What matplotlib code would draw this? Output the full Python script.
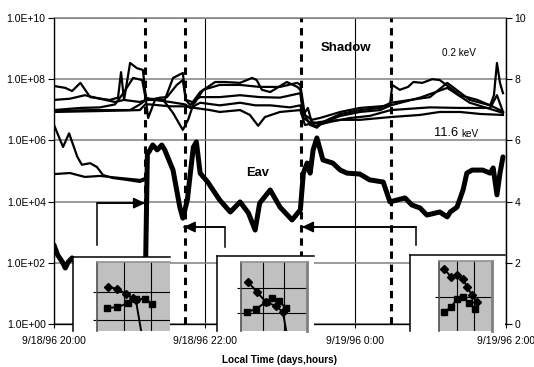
import matplotlib
matplotlib.use('Agg')
import matplotlib.pyplot as plt
from matplotlib.ticker import NullLocator
from matplotlib.patches import ArrowStyle

plt.rcParams['font.family'] = ['Liberation Sans', 'DejaVu Sans']

# ---------------- data ----------------
# time in hours after 9/18/96 20:00
tick_hours = [0, 2, 4, 6]
tick_labels = ['9/18/96 20:00', '9/18/96 22:00', '9/19/96 0:00', '9/19/96 2:00']
flux_ticks = [1e0, 1e2, 1e4, 1e6, 1e8, 1e10]
flux_tick_labels = ['1.0E+00', '1.0E+02', '1.0E+04', '1.0E+06', '1.0E+08', '1.0E+10']
eav_ticks = [0, 2, 4, 6, 8, 10]
shadow_edges = [1.21, 1.74, 3.28, 4.47]

# energy channel fluxes (left, log axis)
t1 = [0, 0.15, 0.24, 0.35, 0.48, 0.74, 0.85, 0.89, 0.93, 1.14, 1.22, 1.27, 1.41, 1.50, 1.63, 1.71,
      1.75, 1.87, 1.98, 2.20, 2.47, 2.73, 3.0, 3.23, 3.27, 3.33, 3.42, 3.53, 3.80, 4.06, 4.33, 4.46,
      4.49, 4.59, 4.70, 4.77, 4.89, 5.02, 5.12, 5.26, 5.39, 5.62, 5.79, 5.84, 5.88, 5.92, 5.96]
f1 = [6.0e7, 5.2e7, 4.1e7, 7.6e7, 2.6e7, 2.1e7, 2.5e7, 1.7e8, 2.1e7, 1.8e7, 2.1e7, 2.1e7, 2.5e7, 2.6e7, 6.5e7, 9.4e7,
      2.1e7, 1.7e7, 4.5e7, 6.5e7, 6.5e7, 5.6e7, 5.6e7, 7.6e7, 6.5e7, 6.8e6, 4.7e6, 5.4e6, 8.5e6, 1.15e7, 1.3e7, 1.4e7,
      6.5e7, 4.5e7, 5.6e7, 8.1e7, 7.6e7, 1.0e8, 9.4e7, 5.2e7, 3.0e7, 2.1e7, 1.4e7, 3.0e7, 3.4e8, 7.6e7, 3.5e7]

t2 = [0, 0.21, 0.41, 0.61, 0.81, 0.93, 1.01, 1.10, 1.18, 1.22, 1.27, 1.47, 1.58, 1.71, 1.75, 1.81,
      1.94, 2.14, 2.27, 2.47, 2.63, 2.69, 2.76, 2.87, 3.09, 3.23, 3.27, 3.31, 3.40, 3.49, 3.57, 3.80,
      4.06, 4.33, 4.47, 4.73, 4.99, 5.22, 5.52, 5.79, 5.92, 5.96]
f2 = [2.1e7, 2.3e7, 3.0e7, 2.3e7, 1.8e7, 2.1e7, 3.4e8, 2.3e8, 2.0e8, 2.5e7, 2.3e7, 2.1e7, 1.1e8, 1.6e8, 2.1e7, 1.4e7,
      3.8e7, 8.1e7, 8.1e7, 7.6e7, 1.1e8, 9.4e7, 4.5e7, 3.8e7, 8.1e7, 5.6e7, 4.5e7, 7.9e6, 3.2e6, 2.6e6, 4.0e6, 7.3e6,
      9.8e6, 1.15e7, 1.7e7, 2.1e7, 2.6e7, 7.6e7, 2.1e7, 1.4e7, 9.8e6, 8.5e6]

t3 = [0, 0.35, 0.61, 0.81, 0.92, 1.05, 1.17, 1.22, 1.27, 1.45, 1.58, 1.71, 1.78, 1.87, 1.94, 2.20,
      2.47, 2.73, 3.0, 3.27, 3.31, 3.37, 3.42, 3.53, 3.80, 4.06, 4.33, 4.47, 4.86, 5.22, 5.52, 5.92, 5.96]
f3 = [9.8e6, 1.15e7, 1.2e7, 1.5e7, 3.5e7, 1.1e8, 9.4e7, 2.1e7, 2.1e7, 2.1e7, 7.9e6, 2.2e6, 4.7e6, 2.1e7, 2.6e7, 2.6e7,
      3.0e7, 2.6e7, 2.5e7, 3.5e7, 6.8e6, 1.15e7, 4.0e6, 3.5e6, 6.3e6, 8.5e6, 9.8e6, 1.4e7, 2.5e7, 5.2e7, 1.7e7, 8.5e6, 7.9e6]

t4 = [0, 0.48, 0.88, 1.01, 1.14, 1.22, 1.25, 1.34, 1.54, 1.74, 1.81, 1.94, 2.20, 2.47, 2.67, 2.87,
      3.13, 3.27, 3.31, 3.47, 3.66, 3.93, 4.19, 4.47, 4.99, 5.39, 5.79, 5.88, 5.96]
f4 = [9.1e6, 9.8e6, 9.8e6, 9.8e6, 1.5e7, 2.1e7, 5.4e6, 2.1e7, 1.8e7, 1.5e7, 1.15e7, 1.7e7, 1.4e7, 1.7e7, 1.4e7, 1.4e7,
      1.2e7, 1.4e7, 5.4e6, 3.0e6, 4.0e6, 5.4e6, 6.3e6, 9.8e6, 1.2e7, 1.15e7, 1.15e7, 3.0e7, 8.5e6]

t5 = [0, 0.61, 1.14, 1.21, 1.27, 1.54, 1.74, 1.87, 2.07, 2.20, 2.47, 2.60, 2.71, 2.80, 3.0, 3.27,
      3.33, 3.53, 3.80, 4.06, 4.47, 4.86, 5.12, 5.39, 5.66, 5.96]
f5 = [8.5e6, 9.1e6, 9.8e6, 1.5e7, 1.5e7, 1.3e7, 1.3e7, 1.15e7, 9.8e6, 8.5e6, 9.8e6, 6.8e6, 3.0e6, 5.8e6, 8.5e6, 9.8e6,
      3.2e6, 4.0e6, 4.7e6, 4.7e6, 5.8e6, 6.8e6, 8.5e6, 8.5e6, 7.3e6, 6.8e6]

t6 = [0, 0.12, 0.20, 0.31, 0.37, 0.48, 0.57, 0.65, 0.78, 0.97, 1.14, 1.21]
f6 = [3.2e6, 6.1e5, 1.7e6, 2.9e5, 1.6e5, 1.8e5, 1.35e5, 7.4e4, 5.9e4, 5.1e4, 4.4e4, 5.1e4]

t7 = [0, 0.21, 0.41, 0.61, 0.88, 1.14, 1.21]
f7 = [7.9e4, 8.6e4, 6.4e4, 6.9e4, 5.9e4, 5.1e4, 5.9e4]

# average energy Eav (right axis, keV)
eav_t = [0, 0.05, 0.11, 0.15, 0.19, 0.24, 0.41, 0.68, 0.94, 1.18, 1.21, 1.24, 1.26, 1.31, 1.37, 1.43,
         1.47, 1.58, 1.67, 1.71, 1.77, 1.81, 1.85, 1.89, 1.94, 2.04, 2.20, 2.34, 2.47, 2.58, 2.67, 2.73,
         2.87, 3.0, 3.16, 3.27, 3.31, 3.36, 3.40, 3.44, 3.49, 3.57, 3.70, 3.80, 3.89, 4.06, 4.19, 4.37,
         4.46, 4.55, 4.66, 4.75, 4.86, 4.95, 5.12, 5.22, 5.26, 5.35, 5.43, 5.48, 5.55, 5.69, 5.79, 5.83,
         5.88, 5.92, 5.96]
eav = [2.58, 2.25, 2.03, 1.83, 2.03, 2.16, 1.6, 1.3, 1.1, 1.0, 1.0, 5.6, 5.62, 5.85, 5.69, 5.85,
       5.69, 5.03, 3.82, 3.46, 4.05, 4.93, 5.78, 5.95, 4.93, 4.64, 4.05, 3.66, 3.99, 3.63, 3.07, 3.95,
       4.38, 3.82, 3.40, 3.73, 4.93, 5.26, 4.93, 5.69, 6.08, 5.36, 5.26, 5.03, 4.93, 4.90, 4.71, 4.64,
       3.99, 4.05, 4.12, 3.89, 3.79, 3.56, 3.66, 3.50, 3.66, 3.82, 4.38, 4.93, 5.03, 5.03, 4.93, 5.10,
       4.22, 4.93, 5.46]

# arrows: (tail_x, tail_y, corner_y, head_x) in hours / keV
arrows = [(0.57, 2.58, 3.95, 1.21), (2.27, 2.52, 3.17, 1.72), (4.81, 2.58, 3.17, 3.29)]

# inset spectra (arbitrary units)
in1_dx = [0.37, 0.74, 1.07, 1.33, 1.44, 1.70]
in1_dy = [1.18, 1.11, 0.93, 0.79, 0.71, -0.71]
in1_sx = [0.33, 0.74, 1.15, 1.44, 1.78, 2.07]
in1_sy = [0.43, 0.46, 0.61, 0.75, 0.75, 0.57]

in2_dx = [0.29, 0.71, 1.14, 1.62, 1.95, 2.10]
in2_dy = [1.24, 0.84, 0.44, 0.28, 0.04, -0.68]
in2_sx = [0.24, 0.67, 1.14, 1.43, 1.76, 2.10]
in2_sy = [0.04, 0.16, 0.44, 0.60, 0.48, 0.20]

in3_dx = [0.24, 0.65, 1.00, 1.35, 1.59, 1.88, 2.18]
in3_dy = [1.78, 1.56, 1.61, 1.50, 1.28, 1.06, 0.86]
in3_sx = [0.24, 0.65, 1.00, 1.35, 1.71, 2.06]
in3_sy = [0.58, 0.72, 0.94, 1.00, 0.83, 0.67]

# ---------------- figure ----------------
W, H = 534, 367
fig = plt.figure(figsize=(W / 100, H / 100), dpi=100)


def rect(x0, y0, x1, y1):
    return [x0 / W, 1 - y1 / H, (x1 - x0) / W, (y1 - y0) / H]


ax = fig.add_axes(rect(54, 18, 506, 324))
ax.set_yscale('log')
ax.set_ylim(1, 1e10)
ax.set_xlim(0, 6)
ax.set_axisbelow(True)
ax.grid(axis='y', color='#808080', lw=1.1)
ax.grid(axis='x', color='k', lw=0.8)
ax.set_yticks(flux_ticks)
ax.set_yticklabels(flux_tick_labels)
ax.yaxis.set_minor_locator(NullLocator())
ax.set_xticks(tick_hours)
ax.set_xticklabels(tick_labels)
ax.tick_params(axis='both', labelsize=7.5, direction='out', width=0.8)
ax.tick_params(axis='y', length=4, pad=2)
ax.tick_params(axis='x', length=3, pad=5.5)
ax.spines['top'].set_color('#808080')
ax.spines['top'].set_linewidth(1.1)
for s in ['left', 'bottom', 'right']:
    ax.spines[s].set_linewidth(0.9)

for tt, ff in [(t1, f1), (t2, f2), (t3, f3), (t4, f4), (t5, f5), (t6, f6), (t7, f7)]:
    ax.plot(tt, ff, color='k', lw=1.6, solid_joinstyle='round')

ax2 = ax.twinx()
ax2.set_ylim(0, 10)
ax2.set_xlim(0, 6)
ax2.set_yticks(eav_ticks)
ax2.tick_params(axis='y', labelsize=7.5, direction='out', length=4, width=0.8, pad=2)
ax2.spines['top'].set_visible(False)
ax2.spines['right'].set_linewidth(0.9)
ax2.plot(eav_t, eav, color='k', lw=3.6, solid_joinstyle='round', solid_capstyle='round')

for xe in shadow_edges:
    ax2.axvline(xe, color='k', lw=2.2, ls=(0, (2.4, 1.9)), zorder=4)

for (tx, ty, cy, hx) in arrows:
    ax2.plot([tx, tx, hx], [ty, cy, cy], color='k', lw=1.1, zorder=5)
    ax2.annotate('', xy=(hx, cy), xytext=(tx, cy),
                 arrowprops=dict(arrowstyle=ArrowStyle('-|>', head_length=0.7, head_width=0.33),
                                 mutation_scale=10, color='k', lw=1.1, shrinkA=0, shrinkB=0),
                 zorder=5)


def inset(box, gray, xlim, ylim, xgrid, ygrid, dx, dy, sx, sy, mark_last, right_border):
    b = fig.add_axes(rect(*box))
    b.set_facecolor('white')
    b.set_xticks([])
    b.set_yticks([])
    b.set_xlim(0, 1)
    b.set_ylim(0, 1)
    b.spines['right'].set_visible(False)
    b.spines['bottom'].set_visible(False)
    b.spines['top'].set_linewidth(1.1)
    b.spines['left'].set_linewidth(1.1)
    g = fig.add_axes(rect(*gray))
    g.set_facecolor('#c0c0c0')
    g.set_xlim(xlim)
    g.set_ylim(ylim)
    for v in xgrid:
        g.axvline(v, color='k', lw=0.8)
    for v in ygrid:
        g.axhline(v, color='k', lw=0.8)
    g.set_xticks([])
    g.set_yticks(ygrid)
    g.set_yticklabels([])
    g.tick_params(axis='y', length=3, width=0.8, direction='out')
    g.spines['bottom'].set_visible(False)
    g.spines['top'].set_color('#909090')
    g.spines['top'].set_linewidth(1.2)
    g.spines['left'].set_color('#505050')
    g.spines['left'].set_linewidth(1.2)
    if right_border:
        g.spines['right'].set_color('#808080')
        g.spines['right'].set_linewidth(2.0)
    else:
        g.spines['right'].set_visible(False)
    me = slice(0, len(dx) if mark_last else len(dx) - 1)
    g.plot(dx, dy, color='k', lw=1.4, marker='D', ms=3.6, markevery=me)
    g.plot(sx, sy, color='k', lw=1.4, marker='s', ms=5)


inset((73, 257, 170, 331), (97, 262, 170, 331), (-0.04, 2.74), (-0.39, 2.07), [1, 2], [0, 1],
      in1_dx, in1_dy, in1_sx, in1_sy, False, False)
inset((217, 256, 314, 331), (241, 262, 307, 331), (-0.05, 3.1), (-0.72, 2.04), [1, 2], [0, 1],
      in2_dx, in2_dy, in2_sx, in2_sy, False, True)
inset((410, 255, 505, 331), (439, 261, 492, 331), (-0.06, 3.06), (0.056, 2.0), [1, 2], [1],
      in3_dx, in3_dy, in3_sx, in3_sy, True, True)

# labels
fig.text(346 / W, 1 - 48 / H, 'Shadow', fontsize=9.5, fontweight='bold', ha='center', va='center')
fig.text(459 / W, 1 - 53 / H, '0.2 keV', fontsize=7.2, ha='center', va='center')
fig.text(458 / W, 1 - 133 / H, '11.6', fontsize=9.3, ha='right', va='center')
fig.text(461 / W, 1 - 134 / H, 'keV', fontsize=7.2, ha='left', va='center')
fig.text(258 / W, 1 - 173 / H, 'Eav', fontsize=9.3, fontweight='bold', ha='center', va='center')
fig.text(280 / W, 1 - 360 / H, 'Local Time (days,hours)', fontsize=7.2, fontweight='bold',
         ha='center', va='center')

fig.savefig('out.png', dpi=100)
